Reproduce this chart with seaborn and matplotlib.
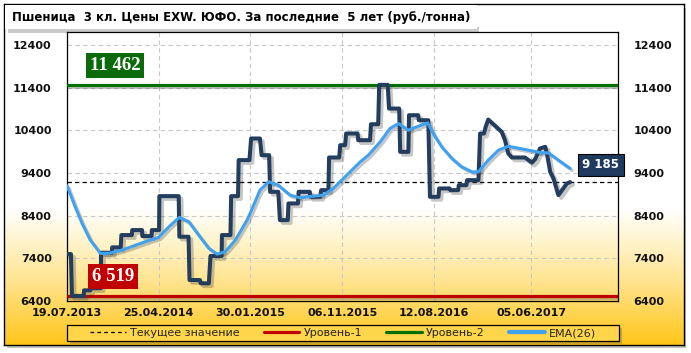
import numpy as np
import pandas as pd
import matplotlib
matplotlib.use("Agg")
import matplotlib.pyplot as plt
import matplotlib.patheffects as pe
import seaborn as sns
from matplotlib.colors import LinearSegmentedColormap
from matplotlib.patches import Rectangle
from matplotlib.lines import Line2D

# ---------------- data ----------------
title = "Пшеница  3 кл. Цены EXW. ЮФО. За последние  5 лет (руб./тонна)"

price_dates = [
    "2013-07-19", "2013-07-31", "2013-08-03", "2013-09-08", "2013-09-09", "2013-09-28", "2013-09-29", "2013-10-30",
    "2013-10-31", "2013-12-03", "2013-12-04", "2013-12-30", "2014-01-01", "2014-02-02", "2014-02-03", "2014-03-05",
    "2014-03-06", "2014-04-03", "2014-04-04", "2014-04-26", "2014-04-27", "2014-06-25", "2014-06-27", "2014-07-25",
    "2014-07-28", "2014-08-29", "2014-08-31", "2014-09-25", "2014-09-30", "2014-11-03", "2014-11-04", "2014-11-30",
    "2014-12-02", "2014-12-23", "2014-12-25", "2015-01-27", "2015-02-01", "2015-02-28", "2015-03-05", "2015-03-28",
    "2015-03-31", "2015-04-25", "2015-04-30", "2015-05-24", "2015-05-26", "2015-06-24", "2015-06-26", "2015-07-30",
    "2015-08-01", "2015-08-31", "2015-09-03", "2015-09-25", "2015-09-27", "2015-10-28", "2015-10-31", "2015-11-15",
    "2015-11-18", "2015-12-23", "2015-12-25", "2016-01-30", "2016-02-02", "2016-02-24", "2016-02-27", "2016-03-24",
    "2016-03-28", "2016-04-28", "2016-05-01", "2016-05-26", "2016-05-28", "2016-06-25", "2016-06-27", "2016-07-26",
    "2016-07-31", "2016-08-26", "2016-08-28", "2016-09-29", "2016-10-01", "2016-10-25", "2016-10-27", "2016-11-19",
    "2016-11-21", "2016-12-26", "2016-12-31", "2017-01-12", "2017-01-17", "2017-01-25", "2017-03-07", "2017-03-17",
    "2017-03-27", "2017-04-07", "2017-05-17", "2017-05-28", "2017-06-07", "2017-06-17", "2017-07-02", "2017-07-18",
    "2017-07-23", "2017-08-02", "2017-08-12", "2017-08-27", "2017-09-11", "2017-09-22", "2017-10-02"]
price_values = [
    7500, 7500, 6519, 6519, 6650, 6650, 6700, 6700,
    7530, 7530, 7656, 7656, 7944, 7944, 8061, 8061,
    7920, 7920, 8061, 8061, 8856, 8856, 7905, 7905,
    6891, 6891, 6814, 6814, 7453, 7453, 7944, 7944,
    8856, 8856, 9700, 9700, 10206, 10206, 9815, 9815,
    8957, 8957, 8295, 8295, 8685, 8685, 8957, 8957,
    8840, 8840, 8996, 8996, 9761, 9761, 10049, 10049,
    10323, 10323, 10166, 10166, 10540, 10540, 11462, 11462,
    10907, 10907, 9893, 9893, 10751, 10751, 10634, 10634,
    8840, 8840, 9036, 9036, 8996, 8996, 9113, 9113,
    9230, 9230, 10323, 10323, 10480, 10650, 10361, 10166,
    9855, 9761, 9761, 9700, 9640, 9720, 9973, 10010,
    9855, 9425, 9270, 8880, 9036, 9153, 9185]

ema_dates = [
    "2013-07-19", "2013-08-13", "2013-09-03", "2013-09-28", "2013-10-29", "2013-11-23", "2014-01-03", "2014-03-15",
    "2014-04-25", "2014-05-26", "2014-06-27", "2014-07-26", "2014-08-25", "2014-09-25", "2014-10-20", "2014-11-14",
    "2014-12-15", "2015-01-20", "2015-01-29", "2015-02-28", "2015-03-27", "2015-04-25", "2015-05-31", "2015-06-30",
    "2015-08-03", "2015-09-10", "2015-10-10", "2015-11-20", "2015-12-31", "2016-01-25", "2016-03-01", "2016-03-31",
    "2016-04-26", "2016-05-26", "2016-06-26", "2016-07-24", "2016-08-16", "2016-09-05", "2016-10-06", "2016-11-05",
    "2016-12-06", "2016-12-26", "2017-01-25", "2017-02-25", "2017-03-27", "2017-05-17", "2017-07-07", "2017-07-28",
    "2017-08-27", "2017-10-02"]
ema_values = [
    9100, 8606, 8217, 7827, 7516, 7516, 7593, 7788,
    7890, 8138, 8358, 8255, 7944, 7633, 7500, 7553,
    7827, 8300, 8451, 8996, 9191, 9113, 8880, 8817,
    8850, 8880, 9036, 9347, 9658, 9815, 10126, 10440,
    10556, 10400, 10494, 10571, 10243, 10010, 9738, 9542,
    9425, 9425, 9700, 9932, 10025, 9949, 9870, 9870,
    9700, 9504]

level1 = 6519          # Уровень-1
level2 = 11462         # Уровень-2
current = 9185         # Текущее значение
y_ticks = [6400, 7400, 8400, 9400, 10400, 11400, 12400]
x_tick_labels = ["19.07.2013", "25.04.2014", "30.01.2015", "06.11.2015", "12.08.2016", "05.06.2017"]
legend_labels = ["Текущее значение", "Уровень-1", "Уровень-2", "EMA(26)"]
x_range = ["2013-07-19", "2018-02-25"]
y_range = [6400, 12700]

# ---------------- style ----------------
sns.set_theme(style="white")
plt.rcParams['font.family'] = ['DejaVu Sans']

C_PRICE = "#223D5E"
C_EMA = "#3FA2F0"
C_RED = "#C00000"
C_GREEN = "#007000"

W, H = 691, 353
fig = plt.figure(figsize=(W / 100, H / 100), dpi=100, facecolor="white")


def fx(px):
    return px / W


def fy(py):
    return 1 - py / H


# outer frame shadow + gradient background
fig.patches.append(Rectangle((fx(7), fy(348)), fx(679), 340 / H, transform=fig.transFigure,
                             facecolor="#9A9A9A", edgecolor="none", alpha=0.6, zorder=-20))
bg = fig.add_axes([fx(4), fy(345), fx(680), 341 / H], zorder=-10)
cmap = LinearSegmentedColormap.from_list(
    "bg", [(0, "#FFFFFF"), (0.60, "#FFFFFF"), (0.68, "#FFF6D6"),
           (0.82, "#FFE38C"), (1.0, "#FFC61A")])
grad = np.linspace(0, 1, 400).reshape(-1, 1)
bg.imshow(grad, aspect="auto", cmap=cmap, extent=[0, 1, 0, 1], origin="upper")
bg.set_xlim(0, 1)
bg.set_ylim(0, 1)
bg.set_xticks([])
bg.set_yticks([])
for s in bg.spines.values():
    s.set_color("black")
    s.set_linewidth(1.0)

# title box with shadow
fig.patches.append(Rectangle((fx(8), fy(33)), fx(471), 6 / H, transform=fig.transFigure,
                             facecolor="#A0A0A0", edgecolor="none", alpha=0.55, zorder=1))
fig.patches.append(Rectangle((fx(5), fy(29)), fx(472), 24 / H, transform=fig.transFigure,
                             facecolor="white", edgecolor="none", zorder=2))
fig.text(fx(12), fy(17), title, fontsize=8.5, fontweight="bold", color="black",
         ha="left", va="center", zorder=3)

# main axes
ax = fig.add_axes([fx(67), fy(301), fx(551), 269 / H], zorder=5)
ax.patch.set_alpha(0)

shadow = [pe.SimpleLineShadow(offset=(1.5, -1.5), shadow_color="#555555", alpha=0.35), pe.Normal()]

ax.axhline(level2, color=C_GREEN, lw=2.3, zorder=3, path_effects=shadow)
ax.axhline(level1, color=C_RED, lw=2.3, zorder=3, path_effects=shadow)
ax.axhline(current, color="black", lw=0.9, ls=(0, (3.5, 2.5)), zorder=3)

pdates = pd.to_datetime(price_dates)
edates = pd.to_datetime(ema_dates)
sns.lineplot(x=pdates, y=price_values, ax=ax, color=C_PRICE, lw=2.9,
             estimator=None, sort=False, zorder=4)
ax.lines[-1].set_path_effects([pe.SimpleLineShadow(offset=(2, -2), shadow_color="#444444", alpha=0.3),
                               pe.Normal()])
sns.lineplot(x=edates, y=ema_values, ax=ax, color=C_EMA, lw=2.2,
             estimator=None, sort=False, zorder=5)
ax.lines[-1].set_path_effects([pe.SimpleLineShadow(offset=(1.5, -1.5), shadow_color="#444444", alpha=0.3),
                               pe.Normal()])

ax.set_xlim(pd.to_datetime(x_range[0]), pd.to_datetime(x_range[1]))
ax.set_ylim(*y_range)
xt = pd.to_datetime(x_tick_labels, format="%d.%m.%Y")
ax.set_xticks(xt)
ax.set_xticklabels(x_tick_labels)
ax.set_yticks(y_ticks)
ax.set_yticklabels([str(v) for v in y_ticks])
ax.set_xlabel("")
ax.set_ylabel("")
ax.grid(True, color="#C8C8C8", lw=0.8, ls=(0, (4, 3)))
ax.tick_params(axis="y", which="both", length=0, labelleft=True, labelright=True,
               labelsize=8, pad=11)
ax.tick_params(axis="x", length=0, labelsize=8, pad=5)
for lab in ax.get_xticklabels() + ax.get_yticklabels():
    lab.set_fontweight("bold")
    lab.set_color("#111111")
for s in ax.spines.values():
    s.set_color("black")
    s.set_linewidth(0.9)
    s.set_visible(True)

# value boxes
ax.text(0.088, 0.875, f"{level2:,}".replace(",", " "), transform=ax.transAxes,
        family=["Liberation Serif"], fontweight="bold", fontsize=13.5, color="white",
        ha="center", va="center", zorder=8,
        bbox=dict(boxstyle="square,pad=0.2", facecolor="#0B6B0B", edgecolor="none"))
ax.text(0.084, 0.091, f"{level1:,}".replace(",", " "), transform=ax.transAxes,
        family=["Liberation Serif"], fontweight="bold", fontsize=13.5, color="white",
        ha="center", va="center", zorder=8,
        bbox=dict(boxstyle="square,pad=0.2", facecolor=C_RED, edgecolor="none"))
ax.text(0.969, 0.506, f"{current:,}".replace(",", " "), transform=ax.transAxes,
        fontweight="bold", fontsize=8.5, color="white", ha="center", va="center",
        zorder=9, clip_on=False,
        bbox=dict(boxstyle="square,pad=0.35", facecolor="#1F3A5F", edgecolor="black", lw=0.8))

# legend box
fig.patches.append(Rectangle((fx(70), fy(344)), fx(552), 16 / H, transform=fig.transFigure,
                             facecolor="#8A7A40", edgecolor="none", alpha=0.45, zorder=6))
fig.patches.append(Rectangle((fx(67), fy(341)), fx(552), 16 / H, transform=fig.transFigure,
                             facecolor="#FFD54A", edgecolor="black", lw=0.9, zorder=7))
handles = [Line2D([], [], color="black", lw=0.9, ls=(0, (3, 2.5))),
           Line2D([], [], color=C_RED, lw=2.3),
           Line2D([], [], color=C_GREEN, lw=2.3),
           Line2D([], [], color=C_EMA, lw=3)]
leg = fig.legend(handles, legend_labels, loc="center", bbox_to_anchor=(fx(343), fy(333)),
                 ncol=4, frameon=False, fontsize=8, handlelength=3.2, handletextpad=0.35,
                 columnspacing=2.2, borderpad=0.1)
leg.set_zorder(8)

fig.savefig("out.png", dpi=100, facecolor="white")
